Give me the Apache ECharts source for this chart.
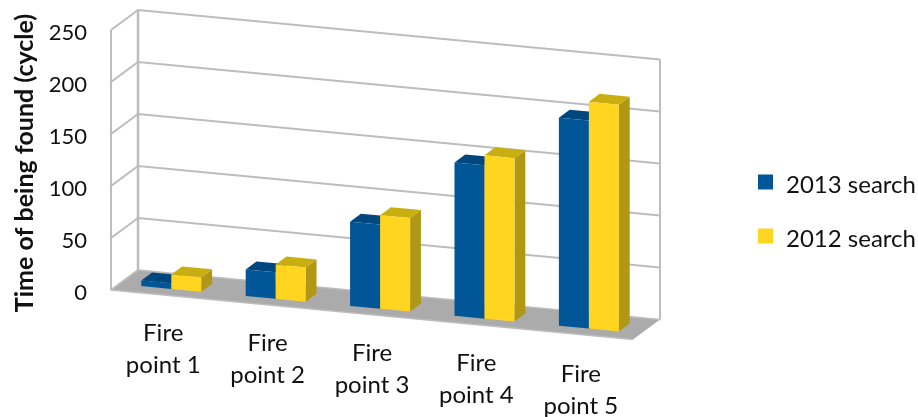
<!DOCTYPE html>
<html>
<head>
<meta charset="utf-8">
<style>html,body{margin:0;padding:0;background:#fff}#chart{width:918px;height:417px}</style>
<script src="https://cdn.jsdelivr.net/npm/echarts@6/dist/echarts.min.js"></script>
</head>
<body>
<div id="chart"></div>
<script>
// Search results per fire point
const categories = ['Fire\npoint 1', 'Fire\npoint 2', 'Fire\npoint 3', 'Fire\npoint 4', 'Fire\npoint 5'];
const search2013 = [5.5, 25.5, 81, 147.5, 200];
const search2012 = [14, 33, 90, 157, 218];
const yTicks = [0, 50, 100, 150, 200, 250];

const FONT = 'Lato';
const WALL = '#bdbdbd';
const FLOOR = '#ababab';

// Oblique projection of the plot box
const SLOPE = 49.5 / 522;          // the floor runs downhill to the right
const DEPTH = [27, -20];           // screen offset from the front plane to the back wall
const BAR_FRONT = 0.3;             // bar depth range within the floor
const BAR_BACK = 0.7;
const BAR_SHARE = 0.2875;          // width of one bar in a category band

function project(rect, px, py, depth) {
  return [
    px + depth * DEPTH[0],
    py + (px - rect.x) * SLOPE + depth * DEPTH[1]
  ];
}

function wallItem(params, api) {
  const r = params.coordSys;
  const y = api.coord([0, api.value(1)])[1];
  const left = r.x, right = r.x + r.width;
  const children = [];
  const line = (points, width) => ({
    type: 'polyline',
    shape: { points },
    style: { stroke: WALL, lineWidth: width, fill: null }
  });
  if (params.dataIndex === 0) {
    const bottom = r.y + r.height, top = r.y;
    children.push({
      type: 'polygon',
      shape: { points: [
        project(r, left, bottom, 0), project(r, left, bottom, 1),
        project(r, right, bottom, 1), project(r, right, bottom, 0)
      ] },
      style: { fill: FLOOR }
    });
    children.push(line([project(r, left, bottom, 0), project(r, right, bottom, 0)], 1.5));
    children.push(line([project(r, left, top, 0), project(r, left, bottom, 0)], 2));
    children.push(line([project(r, left, top, 1), project(r, left, bottom, 1)], 2.5));
    children.push(line([project(r, right, top, 1), project(r, right, bottom, 1)], 2));
    children.push(line([project(r, left, y, 0), project(r, left, y, 1)], 2));
    children.push(line([project(r, left, y, 1), project(r, right, y, 1)], 1.5));
  } else {
    children.push(line([project(r, left, y, 0), project(r, left, y, 1), project(r, right, y, 1)], 2));
  }
  return { type: 'group', children };
}

function barRenderer(slot, front, top, side) {
  return function (params, api) {
    const r = params.coordSys;
    const band = api.size([1, 0])[0];
    const cat = api.coord([api.value(0), 0]);
    const yVal = api.coord([api.value(0), api.value(1)])[1];
    const w = band * BAR_SHARE;
    const x0 = cat[0] + (slot - 1) * w, x1 = x0 + w;
    const base = cat[1];
    const frontFace = [
      project(r, x0, base, BAR_FRONT), project(r, x1, base, BAR_FRONT),
      project(r, x1, yVal, BAR_FRONT), project(r, x0, yVal, BAR_FRONT)
    ];
    const topFace = [
      project(r, x0, yVal, BAR_FRONT), project(r, x1, yVal, BAR_FRONT),
      project(r, x1, yVal, BAR_BACK), project(r, x0, yVal, BAR_BACK)
    ];
    const sideFace = [
      project(r, x1, base, BAR_FRONT), project(r, x1, base, BAR_BACK),
      project(r, x1, yVal, BAR_BACK), project(r, x1, yVal, BAR_FRONT)
    ];
    return {
      type: 'group',
      children: [
        { type: 'polygon', shape: { points: sideFace }, style: { fill: side } },
        { type: 'polygon', shape: { points: topFace }, style: { fill: top } },
        { type: 'polygon', shape: { points: frontFace }, style: { fill: front } }
      ]
    };
  };
}

const pairs = arr => arr.map((v, i) => [i, v]);

// Labels step down with the floor edge: a spacer line of growing height sits above each one
const labelRich = { t: { fontFamily: FONT, fontSize: 24, lineHeight: 32, color: '#111', align: 'center' } };
categories.forEach((c, i) => {
  labelRich['s' + i] = { fontSize: 1, lineHeight: 1 + i * 10.2 };
});

const chart = echarts.init(document.getElementById('chart'), null, { renderer: 'canvas' });
chart.setOption({
  animation: false,
  backgroundColor: '#fff',
  grid: { left: 111, top: 30, width: 522, height: 260, containLabel: false, outerBoundsMode: 'none' },
  legend: {
    orient: 'vertical',
    left: 758,
    top: 173,
    padding: 0,
    icon: 'rect',
    itemWidth: 15,
    itemHeight: 15,
    itemGap: 30,
    selectedMode: false,
    data: ['2013 search', '2012 search'],
    formatter: '{a|{name}}',
    textStyle: {
      rich: { a: { fontFamily: FONT, fontSize: 24, color: '#111', padding: [6, 0, 0, 8] } }
    }
  },
  xAxis: {
    type: 'category',
    data: categories,
    axisLine: { show: false },
    axisTick: { show: false },
    splitLine: { show: false },
    axisLabel: {
      interval: 0,
      margin: 26,
      verticalAlign: 'top',
      rich: labelRich,
      formatter: (value, i) => {
        const lines = value.split('\n').map(l => `{t|${l}}`).join('\n');
        return `{s${i}| }\n${lines}`;
      }
    }
  },
  yAxis: {
    type: 'value',
    min: 0,
    max: 250,
    interval: 50,
    name: 'Time of being found (cycle)',
    nameLocation: 'middle',
    nameRotate: 90,
    nameGap: 74,
    nameTextStyle: { fontFamily: FONT, fontSize: 25, fontWeight: 'bold', color: '#111', padding: [0, 6, 0, 0] },
    axisLine: { show: false },
    axisTick: { show: false },
    splitLine: { show: false },
    axisLabel: { margin: 24, fontFamily: FONT, fontSize: 22, color: '#111', verticalAlign: 'top', lineHeight: 5 }
  },
  series: [
    {
      name: 'walls', type: 'custom', silent: true, clip: false, z: 1,
      data: yTicks.map(v => [0, v]), encode: { x: 0, y: 1 },
      renderItem: wallItem
    },
    {
      name: '2013 search', type: 'custom', clip: false, z: 2,
      itemStyle: { color: '#005696' },
      data: pairs(search2013), encode: { x: 0, y: 1 },
      renderItem: barRenderer(0, '#005696', '#00467f', '#003a6b')
    },
    {
      name: '2012 search', type: 'custom', clip: false, z: 3,
      itemStyle: { color: '#ffd520' },
      data: pairs(search2012), encode: { x: 0, y: 1 },
      renderItem: barRenderer(1, '#ffd520', '#c9ae12', '#b09814')
    }
  ]
});
</script>
</body>
</html>
